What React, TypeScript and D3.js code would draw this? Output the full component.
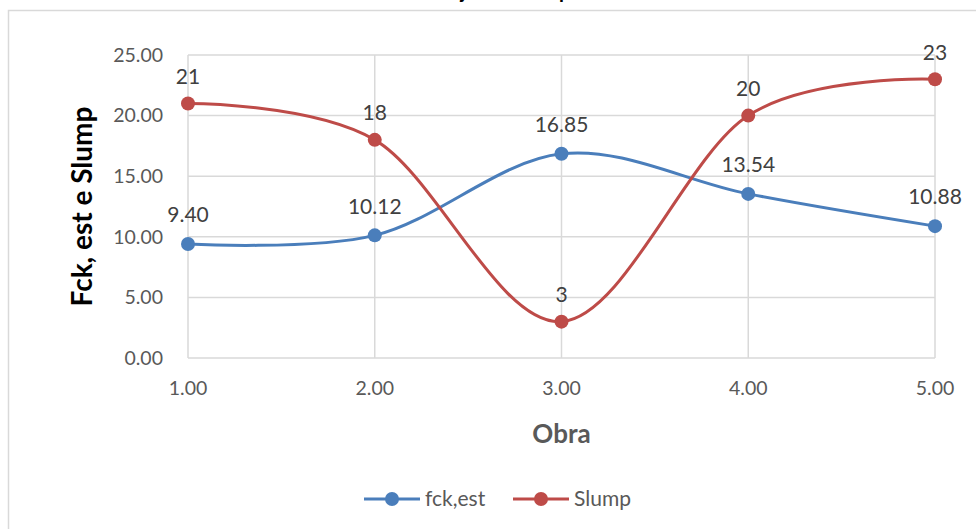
import React from 'react';
import * as d3 from 'd3';

const obras = [1, 2, 3, 4, 5];
const fckEst = [9.4, 10.12, 16.85, 13.54, 10.88];
const slump = [21, 18, 3, 20, 23];
const yTicks = [0, 5, 10, 15, 20, 25];
const seriesNames = ['fck,est', 'Slump'];

const BLUE = '#4A7EBB';
const RED = '#BE4B48';
const GRID = '#D9D9D9';
const FONT = 'Lato, "Open Sans", "Liberation Sans", sans-serif';

const W = 976;
const H = 529;
const plot = { left: 188, right: 935, top: 55, bottom: 358 };

const App: React.FC = () => {
  const x = d3.scaleLinear().domain([1, 5]).range([plot.left, plot.right]);
  const y = d3.scaleLinear().domain([0, 25]).range([plot.bottom, plot.top]);

  const line = d3
    .line<number>()
    .x((_, i) => x(obras[i]))
    .y((d) => y(d))
    .curve(d3.curveCardinal.tension(0));

  const series = [
    { name: seriesNames[0], values: fckEst, color: BLUE, fmt: (v: number) => v.toFixed(2), dy: -29 },
    { name: seriesNames[1], values: slump, color: RED, fmt: (v: number) => String(v), dy: -27 },
  ];

  return (
    <svg
      width={W}
      height={H}
      style={{ position: 'absolute', left: 0, top: 0, background: '#fff', fontFamily: FONT }}
    >
      {/* chart frame (extends beyond the crop) */}
      <rect x={8.5} y={10.5} width={1100} height={700} fill="#fff" stroke={GRID} strokeWidth={1.5} />
      {/* title, mostly cropped off at the top */}
      <text x={500} y={-2} textAnchor="middle" fontSize={20} fontWeight="bold" fill="#000">
        Projeto x Slump
      </text>

      {/* horizontal grid */}
      {yTicks.map((t) => (
        <line key={'h' + t} x1={plot.left} x2={plot.right} y1={y(t)} y2={y(t)} stroke={GRID} strokeWidth={1.5} />
      ))}
      {/* vertical grid */}
      {obras.map((o) => (
        <line key={'v' + o} x1={x(o)} x2={x(o)} y1={plot.top} y2={plot.bottom} stroke={GRID} strokeWidth={1.5} />
      ))}

      {/* y tick labels */}
      {yTicks.map((t) => (
        <text key={'yt' + t} x={163} y={y(t)} dy="0.35em" textAnchor="end" fontSize={19.5} fill="#595959">
          {t.toFixed(2)}
        </text>
      ))}
      {/* x tick labels */}
      {obras.map((o) => (
        <text key={'xt' + o} x={x(o)} y={388} dy="0.35em" textAnchor="middle" fontSize={19.5} fill="#595959">
          {o.toFixed(2)}
        </text>
      ))}

      {/* axis titles */}
      <text x={(plot.left + plot.right) / 2} y={434} dy="0.35em" textAnchor="middle" fontSize={26} fontWeight="bold" fill="#595959">
        Obra
      </text>
      <text
        transform={`translate(82,${(plot.top + plot.bottom) / 2}) rotate(-90)`}
        dy="0.35em"
        textAnchor="middle"
        fontSize={28}
        fontWeight="bold"
        fill="#000"
      >
        Fck, est e Slump
      </text>

      {/* series */}
      {series.map((s) => (
        <g key={s.name}>
          <path d={line(s.values) ?? ''} fill="none" stroke={s.color} strokeWidth={3} />
          {s.values.map((v, i) => (
            <circle key={i} cx={x(obras[i])} cy={y(v)} r={7} fill={s.color} />
          ))}
          {s.values.map((v, i) => (
            <text
              key={'l' + i}
              x={x(obras[i])}
              y={y(v) + s.dy}
              dy="0.35em"
              textAnchor="middle"
              fontSize={21}
              fill="#404040"
            >
              {s.fmt(v)}
            </text>
          ))}
        </g>
      ))}

      {/* legend */}
      {series.map((s, i) => {
        const lx = 364 + i * 149;
        return (
          <g key={'lg' + s.name}>
            <line x1={lx} x2={lx + 56} y1={499} y2={499} stroke={s.color} strokeWidth={3} />
            <circle cx={lx + 28} cy={499} r={7} fill={s.color} />
            <text x={lx + 61} y={499} dy="0.35em" fontSize={21} fill="#595959">
              {s.name}
            </text>
          </g>
        );
      })}
    </svg>
  );
};

export default App;
